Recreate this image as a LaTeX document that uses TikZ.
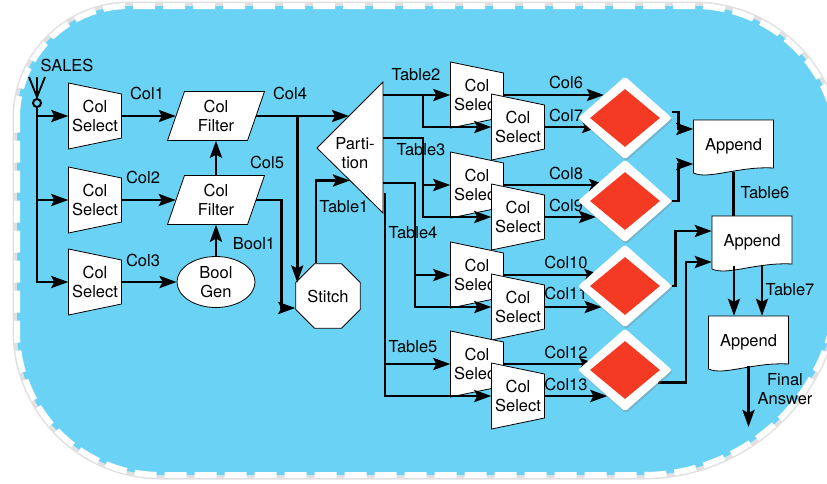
\documentclass[tikz,border=0pt]{standalone}
\usepackage{fontspec}
\setmainfont{TeX Gyre Heros}
\usetikzlibrary{arrows.meta,calc,shapes.geometric,shadows}
\pgfdeclarelayer{background}
\pgfdeclarelayer{foreground}
\pgfsetlayers{background,main,foreground}
\definecolor{bgblue}{RGB}{106,211,245}
\definecolor{dred}{RGB}{244,58,34}
% Col Select: trapezoid, tall side left
\newcommand\ColSel[3]{%
  \filldraw[shapeline] (#2-26.5,#3-33) -- (#2+26.5,#3-22) -- (#2+26.5,#3+22) -- (#2-26.5,#3+33) -- cycle;
  \node[boxtext, minimum width=53pt, minimum height=44pt] (#1) at (#2,#3) {Col\\Select};}
% Col Filter: parallelogram
\newcommand\ColFil[3]{%
  \filldraw[shapeline] (#2-31.5,#3-24.5) -- (#2+48.5,#3-24.5) -- (#2+31.5,#3+24.5) -- (#2-48.5,#3+24.5) -- cycle;
  \node[boxtext, minimum width=80pt, minimum height=49pt] (#1) at (#2,#3) {Col\\Filter};}
% Append: document shape with wavy bottom
\newcommand\AppendBox[3]{%
  \filldraw[shapeline] (#2-40,#3-26) -- (#2+40,#3-26) -- (#2+40,#3+22)
     .. controls (#2+5,#3+20) and (#2-25,#3+34) .. (#2-40,#3+27) -- cycle;
  \node[boxtext, minimum width=80pt, minimum height=52pt] (#1) at (#2,#3) {Append};}
\begin{document}
\begin{tikzpicture}[x=1pt,y=-1pt,
  font=\fontsize{16.5}{19.5}\selectfont,
  shapeline/.style={fill=white,draw=black,line width=0.8pt},
  boxtext/.style={inner sep=0pt,align=center},
  lbl/.style={inner sep=0pt,align=center},
  arr/.style={line width=2.8pt,-{Stealth[length=17pt,width=12pt,inset=3pt]}},
  conn/.style={line width=2.8pt},
  diam/.style={diamond,fill=white,minimum width=94pt,minimum height=83pt,inner sep=0pt,
     rounded corners=2pt,drop shadow={shadow xshift=1pt,shadow yshift=-2pt,opacity=0.35}},
  diamr/.style={diamond,fill=dred,minimum width=70pt,minimum height=58pt,inner sep=0pt}]
\useasboundingbox (0,0) rectangle (827,483);
\clip (0,0) rectangle (827,483);
\begin{pgfonlayer}{background}
\path[fill=bgblue,
  preaction={draw=black!12,line width=9pt},
  postaction={draw=white,line width=6pt,dash pattern=on 22pt off 8pt}]
  (17,118) arc[start angle=180,end angle=90,radius=112pt] -- (694,6)
  arc[start angle=90,end angle=0,radius=144pt] -- (838,280)
  arc[start angle=0,end angle=-90,radius=195pt] -- (161,475)
  arc[start angle=-90,end angle=-180,radius=144pt] -- cycle;
\end{pgfonlayer}

% input
\node[lbl] (sales) at (67,65) {SALES};
\draw[line width=1.8pt] (29,77) -- (37,97) -- (45,77);
\draw[line width=1.8pt] (37,77) -- (37,97);
\node[circle,draw,line width=2pt,minimum size=8pt,inner sep=0pt] (sin) at (37,103) {};

% first column
\ColSel{cs1}{95}{116}
\ColSel{cs2}{95}{200}
\ColSel{cs3}{95}{282}
\ColFil{cf1}{216}{116}
\ColFil{cf2}{216}{200}
\node[ellipse,shapeline,minimum width=78pt,minimum height=51pt,inner sep=0pt,align=center] (bg) at (216,282) {Bool\\Gen};
\node[regular polygon,regular polygon sides=8,minimum size=70pt,shapeline,inner sep=0pt] (st) at (328,296) {Stitch};

% partition
\coordinate (papex) at (317,148);
\coordinate (ptop) at (383,82);
\coordinate (pbot) at (383,213);
\filldraw[shapeline] (papex) -- (ptop) -- (pbot) -- cycle;
\node[boxtext] (part) at (355,153) {Parti-\\tion};

% second column
\ColSel{cs2a}{477}{95}
\ColSel{cs2b}{518}{127}
\ColSel{cs3a}{477}{185}
\ColSel{cs3b}{518}{217}
\ColSel{cs4a}{477}{275}
\ColSel{cs4b}{518}{307}
\ColSel{cs5a}{477}{364}
\ColSel{cs5b}{518}{396}

% diamonds
\begin{pgfonlayer}{foreground}
\node[diam] (d1) at (625,118) {};
\node[diamr] (d1r) at (d1) {};
\node[diam] (d2) at (625,201) {};
\node[diamr] (d2r) at (d2) {};
\node[diam] (d3) at (625,286) {};
\node[diamr] (d3r) at (d3) {};
\node[diam] (d4) at (625,370) {};
\node[diamr] (d4r) at (d4) {};
\end{pgfonlayer}

% appends
\AppendBox{ap1}{733.5}{146}
\AppendBox{ap2}{752}{242}
\AppendBox{ap3}{748.5}{342}

% connectors: input
\draw[arr] (sin.south) |- (cs1.west);
\draw[arr] (sin.south) |- (cs2.west);
\draw[arr] (sin.south) |- (cs3.west);
\draw[arr] (cs1.east) -- (cf1.west);
\draw[arr] (cs2.east) -- (cf2.west);
\draw[arr] (cs3.east) -- (bg.west);
\draw[arr] (bg.north) -- (cf2.south);
\draw[arr] (cf2.north) -- (cf1.south);

% Col4 to partition and stitch
\coordinate (c4e) at ($(papex)!0.485!(ptop)$);
\draw[arr] (cf1.east) -- (cf1.east -| c4e);
\coordinate (j4) at ([xshift=2pt]st.corner 3);
\draw[arr] (cf1.east -| j4) -- (j4);
\draw[arr] (cf2.east) -- ++(25,0) |- ([yshift=-12pt]st.west);
\coordinate (t1e) at ($(papex)!0.5!(pbot)$);
\draw[arr] ([xshift=1.5pt]st.corner 2) |- (t1e);

% partition outputs
\coordinate (b2) at (423,0);
\coordinate (b4) at (415,0);
\coordinate (o3) at (383,138);
\coordinate (o4) at (383,183);
\coordinate (o5) at (385,193);
\draw[arr] (ptop |- cs2a.west) -- (cs2a.west);
\draw[arr] (b2 |- cs2a.west) |- (cs2b.west);
\draw[arr] (o3) -| (b2 |- cs3b.west) -- (cs3b.west);
\draw[arr] (b2 |- cs3a.west) -- (cs3a.west);
\draw[arr] (o4) -| (b4 |- cs4b.west) -- (cs4b.west);
\draw[arr] (b4 |- cs4a.west) -- (cs4a.west);
\draw[arr] (o5) |- (cs5b.west);
\draw[arr] (o5 |- cs5a.west) -- (cs5a.west);

% columns into diamonds
\coordinate (e6) at ($(d1.west)!0.554!(d1.north)$);
\coordinate (e7) at ($(d1.west)!0.45!(d1.south)$);
\coordinate (e8) at ($(d2.west)!0.6!(d2.north)$);
\coordinate (e9) at ($(d2.west)!0.386!(d2.south)$);
\coordinate (e10) at ($(d3.west)!0.5!(d3.north)$);
\coordinate (e11) at ($(d3.west)!0.506!(d3.south)$);
\coordinate (e12) at ($(d4.west)!0.4!(d4.north)$);
\coordinate (e13) at ($(d4.west)!0.627!(d4.south)$);
\draw[arr] (cs2a.east) -- (cs2a.east -| e6);
\draw[arr] (cs2b.east) -- (cs2b.east -| e7);
\draw[arr] (cs3a.east) -- (cs3a.east -| e8);
\draw[arr] (cs3b.east) -- (cs3b.east -| e9);
\draw[arr] (cs4a.east) -- (cs4a.east -| e10);
\draw[arr] (cs4b.east) -- (cs4b.east -| e11);
\draw[arr] (cs5a.east) -- (cs5a.east -| e12);
\draw[arr] (cs5b.east) -- (cs5b.east -| e13);

% diamonds to appends
\draw[arr] ([yshift=6pt]d1.east) -- ++(6,0) |- ([yshift=17pt]ap1.west);
\draw[arr] (d2.east) -- ++(6,0) |- ([yshift=-18pt]ap1.west);
\draw[arr] (d3.east) -- ++(3,0) |- ([yshift=11pt]ap2.west);
\coordinate (d4o) at ($(d4.east)!0.3!(d4.south)$);
\draw[arr] (d4o) -- ++(28,0) |- ([yshift=-20pt]ap2.west);

% appends chain
\draw[conn] (ap1.south) -- (ap1.south |- ap2.north);
\draw[arr] ([xshift=-18pt,yshift=2pt]ap2.south) -- ([xshift=-18pt]ap2.south |- ap3.north);
\draw[arr] ([xshift=10pt,yshift=3pt]ap2.south) -- ([xshift=10pt]ap2.south |- ap3.north);
\coordinate (fin) at (748.5,427);
\draw[arr] ([yshift=2pt]ap3.south) -- (fin);

% labels
\node[lbl] (l1) at (147,93) {Col1};
\node[lbl] (l2) at (143,177) {Col2};
\node[lbl] (l3) at (143,260) {Col3};
\node[lbl] (l4) at (290,93) {Col4};
\node[lbl] (l5) at (267,162) {Col5};
\node[lbl] (lb) at (254,244) {Bool1};
\node[lbl] (lt1) at (344,207) {Table1};
\node[lbl] (lt2) at (416,75) {Table2};
\node[lbl] (lt3) at (421,150) {Table3};
\node[lbl] (lt4) at (413,233) {Table4};
\node[lbl] (lt5) at (413,347) {Table5};
\node[lbl] (l6) at (566,82) {Col6};
\node[lbl] (l7) at (566,115) {Col7};
\node[lbl] (l8) at (566,173) {Col8};
\node[lbl] (l9) at (566,205) {Col9};
\node[lbl] (l10) at (566,262) {Col10};
\node[lbl] (l11) at (566,293) {Col11};
\node[lbl] (l12) at (566,352) {Col12};
\node[lbl] (l13) at (566,384) {Col13};
\node[lbl] (lt6) at (765,193) {Table6};
\node[lbl] (lt7) at (790,290) {Table7};
\node[lbl] (lfa) at (785,389) {Final\\Answer};
\end{tikzpicture}
\end{document}
